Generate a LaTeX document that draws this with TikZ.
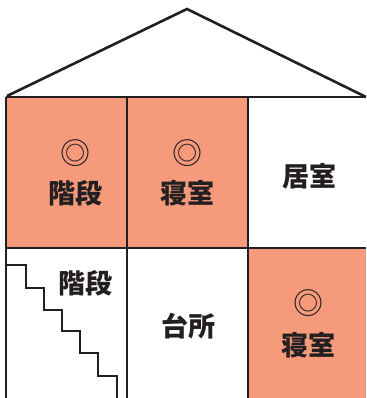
\documentclass[tikz,border=0pt]{standalone}
\usepackage{fontspec}
\newfontfamily\cjk{Noto Sans CJK JP}
\definecolor{salmon}{HTML}{F59A7B}
\definecolor{ink}{HTML}{231F20}
\begin{document}
\begin{tikzpicture}[x=1pt,y=1pt,
  wall/.style={draw=ink,line width=2.6pt},
  room/.style={fill=salmon},
  roomlabel/.style={font=\cjk\bfseries\fontsize{27}{27}\selectfont,text=ink,inner sep=0pt},
  circmark/.style={font=\cjk\fontsize{30}{30}\selectfont,text=ink,inner sep=0pt}]
\useasboundingbox (0,0) rectangle (366,398);
\fill[room] (6,150) rectangle (248,301);
\fill[room] (248,0) rectangle (366,150);
% roof
\draw[wall,line join=miter] (7,302) -- (187,389) -- (366,301);
% walls
\draw[wall] (6,301) -- (366,301);
\draw[wall] (6,150) -- (366,150);
\draw[wall] (6,0) -- (6,301);
\draw[wall] (127,0) -- (127,301);
\draw[wall] (248,0) -- (248,301);
% stairs
\draw[wall,line join=miter] (6,133) -- (26,133) -- (26,110) -- (44,110) -- (44,88) -- (62,88) -- (62,67) -- (80,67) -- (80,45) -- (98,45) -- (98,22) -- (117,22) -- (117,0);
% labels
\node[circmark] (m1) at (75,245) {◎};
\node[roomlabel] (t1) at (75,205) {階段};
\node[circmark] (m2) at (187,245) {◎};
\node[roomlabel] (t2) at (187,205) {寝室};
\node[roomlabel] (t3) at (309,222) {居室};
\node[roomlabel] (t4) at (85,115) {階段};
\node[roomlabel] (t5) at (188,72) {台所};
\node[circmark] (m3) at (308,95) {◎};
\node[roomlabel] (t6) at (308,53) {寝室};
\end{tikzpicture}
\end{document}
